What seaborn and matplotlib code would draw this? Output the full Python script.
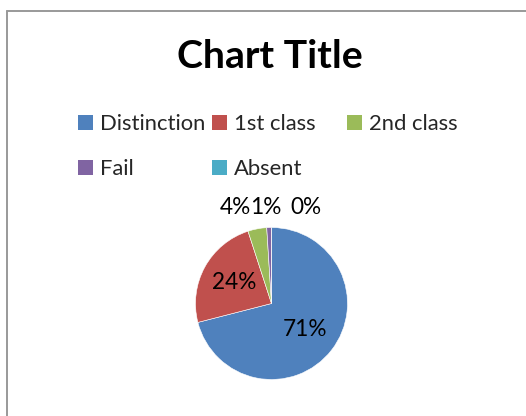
import matplotlib
matplotlib.use("Agg")
import matplotlib.pyplot as plt
import matplotlib.patches as mpatches
import seaborn as sns

# datos
categorias = ['Distinction', '1st class', '2nd class', 'Fail', 'Absent']
porcentajes = [71, 24, 4, 1, 0]
colores = ['#4F81BD', '#C0504D', '#9BBB59', '#8064A2', '#4BACC6']
titulo = 'Chart Title'

sns.set_theme(style='white')
plt.rcParams['font.family'] = ['Lato', 'DejaVu Sans']

fig = plt.figure(figsize=(5.26, 4.16), dpi=100)
fig.patch.set_facecolor('white')

# marco gris del grafico (estilo excel, recortado abajo/derecha)
fig.add_artist(plt.Line2D([7/526, 7/526], [0, 1 - 11/416], color='#999999', lw=1.4,
                          transform=fig.transFigure))
fig.add_artist(plt.Line2D([7/526, 1], [1 - 11/416, 1 - 11/416], color='#999999', lw=1.4,
                          transform=fig.transFigure))

fig.text(270/526, 1 - 68/416, titulo, ha='center', va='baseline',
         fontsize=28.3, fontweight='bold', color='black')

# pie
r_px = 76
cx, cy = 271.5, 303.5
ax = fig.add_axes([(cx - r_px)/526, (416 - cy - r_px)/416, 2*r_px/526, 2*r_px/416])
wedges, textos, autotextos = ax.pie(porcentajes, colors=colores, startangle=90,
                                    counterclock=False, autopct=lambda p: f'{p:.0f}%',
                                    pctdistance=0.56, radius=1,
                                    wedgeprops=dict(edgecolor='white', linewidth=0.4),
                                    textprops=dict(fontsize=16.3, color='black'))
ax.set_xlim(-1, 1)
ax.set_ylim(-1, 1)
ax.set_aspect('equal')
ax.axis('off')

# etiquetas chicas afuera, arriba del pie (como excel)
x_fuera = [None, None, -0.48, -0.08, 0.45]
for t, xf in zip(autotextos, x_fuera):
    if xf is not None:
        t.set_position((xf, 1.26))
        t.set_ha('center')
        t.set_va('center')
for w in wedges:
    w.set_clip_on(False)
for t in autotextos:
    t.set_clip_on(False)

# leyenda en 3 columnas de ancho fijo
handles = [mpatches.Patch(facecolor=c, edgecolor='none') for c in colores]
columnas = [[0, 3], [1, 4], [2]]
x_cols = [78, 212, 347]
for idx, xc in zip(columnas, x_cols):
    fig.legend([handles[i] for i in idx], [categorias[i] for i in idx],
               loc='upper left', bbox_to_anchor=(xc/526, 1 - 114/416),
               frameon=False, fontsize=15.8, borderpad=0, borderaxespad=0,
               handlelength=0.68, handleheight=0.68, handletextpad=0.3,
               labelspacing=1.15)

fig.savefig('out.png', dpi=100, facecolor='white')
